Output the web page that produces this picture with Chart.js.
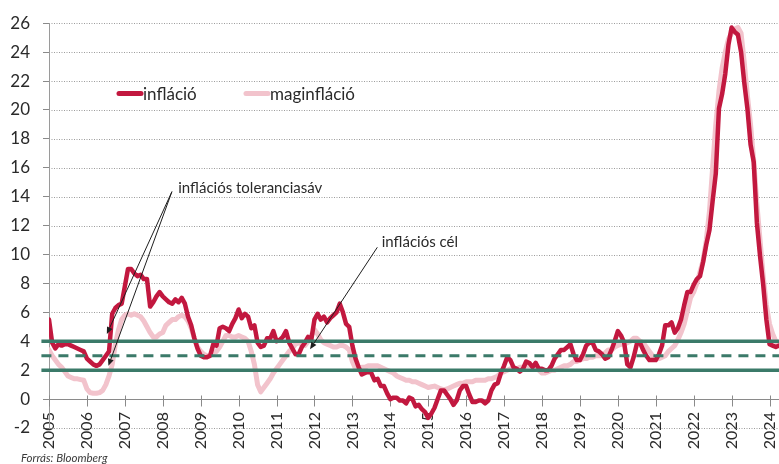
<!DOCTYPE html>
<html><head><meta charset="utf-8">
<script src="https://cdn.jsdelivr.net/npm/chart.js@4/dist/chart.umd.min.js"></script>
<style>html,body{margin:0;padding:0;background:#fff}canvas{display:block}</style>
</head><body>
<canvas id="c" width="779" height="464"></canvas>
<script>
// ---- tick labels / categories (one label per January, monthly data from Jan 2005) ----
const yearLabels = ['2005','2006','2007','2008','2009','2010','2011','2012','2013','2014',
                    '2015','2016','2017','2018','2019','2020','2021','2022','2023','2024'];
const monthsPerYear = 12;

// ---- series: infláció (y/y %, monthly) ----
const inflacio = [
  5.5, 3.9, 3.5, 3.8, 3.7, 3.8, 3.8, 3.7, 3.6, 3.5, 3.4, 3.3,        // 2005
  2.8, 2.6, 2.4, 2.3, 2.4, 2.7, 3.0, 3.3, 5.9, 6.3, 6.5, 6.6,        // 2006
  7.8, 9.0, 9.0, 8.7, 8.5, 8.6, 8.3, 8.3, 6.4, 6.7, 7.1, 7.4,        // 2007
  7.1, 6.9, 6.7, 6.6, 6.9, 6.7, 7.0, 6.6, 5.7, 5.1, 4.2, 3.5,        // 2008
  3.0, 2.9, 2.9, 3.0, 3.8, 3.7, 4.9, 5.0, 4.9, 4.7, 5.2, 5.6,        // 2009
  6.2, 5.6, 5.9, 5.7, 4.9, 5.1, 3.9, 3.6, 3.7, 4.2, 4.2, 4.7,        // 2010
  4.0, 4.1, 4.3, 4.7, 3.9, 3.5, 3.1, 3.1, 3.6, 3.9, 4.3, 4.1,        // 2011
  5.5, 5.9, 5.5, 5.7, 5.3, 5.6, 5.8, 6.0, 6.6, 6.0, 5.2, 5.0,        // 2012
  3.7, 2.8, 2.2, 1.7, 1.8, 1.9, 1.8, 1.3, 1.4, 0.9, 0.9, 0.4,        // 2013
  0.0, 0.1, 0.1, -0.1, -0.1, -0.3, 0.1, 0.0, -0.5, -0.4, -0.7, -0.9, // 2014
  -1.3, -1.0, -0.6, 0.0, 0.6, 0.6, 0.3, 0.0, -0.4, -0.1, 0.6, 0.9,   // 2015
  0.9, 0.3, -0.2, -0.2, -0.1, -0.1, -0.3, -0.1, 0.6, 1.0, 1.1, 1.8,  // 2016
  2.3, 2.9, 2.7, 2.2, 2.1, 1.9, 2.1, 2.6, 2.5, 2.2, 2.5, 2.1,        // 2017
  2.1, 2.0, 2.0, 2.3, 2.8, 3.1, 3.4, 3.4, 3.6, 3.8, 3.1, 2.7,        // 2018
  2.7, 3.1, 3.7, 3.9, 3.9, 3.4, 3.3, 3.1, 2.8, 2.9, 3.4, 4.0,        // 2019
  4.7, 4.4, 3.9, 2.4, 2.2, 2.9, 3.8, 3.9, 3.4, 3.0, 2.7, 2.7,        // 2020
  2.7, 3.1, 3.7, 5.1, 5.1, 5.3, 4.6, 4.9, 5.5, 6.5, 7.4, 7.4,        // 2021
  7.9, 8.3, 8.5, 9.5, 10.7, 11.7, 13.7, 15.6, 20.1, 21.1, 22.5, 24.5,// 2022
  25.7, 25.4, 25.2, 24.0, 21.9, 20.1, 17.6, 16.4, 12.2, 9.9, 7.9, 5.5,// 2023
  3.8, 3.7, 3.6, 3.7                                                 // 2024
];

// ---- series: maginfláció (core, y/y %, monthly) ----
const maginflacio = [
  3.4, 3.0, 2.7, 2.4, 2.2, 1.9, 1.6, 1.5, 1.4, 1.4, 1.35, 1.3,       // 2005
  0.7, 0.45, 0.4, 0.4, 0.45, 0.6, 1.0, 1.6, 2.4, 3.8, 4.8, 5.5,      // 2006
  5.8, 5.9, 5.8, 5.9, 5.8, 5.7, 5.4, 5.0, 4.6, 4.3, 4.3, 4.5,        // 2007
  4.6, 5.1, 5.3, 5.5, 5.5, 5.7, 5.8, 5.7, 5.4, 4.9, 4.2, 3.6,        // 2008
  3.3, 3.1, 3.0, 3.0, 3.2, 3.3, 3.6, 4.0, 4.4, 4.4, 4.3, 4.3,        // 2009
  4.4, 4.3, 4.2, 4.0, 3.3, 2.4, 1.0, 0.5, 0.8, 1.1, 1.4, 1.8,        // 2010
  2.1, 2.4, 2.7, 3.0, 3.3, 3.5, 3.8, 3.9, 3.8, 3.7, 4.0, 4.4,        // 2011
  4.8, 4.5, 4.1, 3.9, 3.8, 3.7, 3.6, 3.6, 3.7, 3.7, 3.6, 3.4,        // 2012
  2.6, 2.1, 2.1, 2.2, 2.2, 2.3, 2.3, 2.3, 2.3, 2.2, 2.1, 2.0,        // 2013
  1.9, 1.8, 1.6, 1.5, 1.4, 1.3, 1.3, 1.2, 1.2, 1.1, 1.0, 0.9,        // 2014
  0.8, 0.85, 0.9, 0.8, 0.7, 0.65, 0.7, 0.8, 0.9, 1.0, 1.1, 1.1,      // 2015
  1.2, 1.2, 1.2, 1.3, 1.3, 1.3, 1.3, 1.4, 1.4, 1.5, 1.6, 1.8,        // 2016
  1.9, 2.0, 2.1, 2.1, 2.1, 2.2, 2.2, 2.3, 2.3, 2.3, 2.2, 2.0,        // 2017
  1.8, 1.8, 1.9, 2.0, 2.0, 2.1, 2.2, 2.3, 2.3, 2.4, 2.6, 2.6,        // 2018
  2.7, 2.8, 2.8, 2.9, 2.9, 3.0, 3.0, 3.0, 3.2, 3.4, 3.4, 3.6,        // 2019
  3.7, 3.8, 3.8, 3.9, 4.0, 4.2, 4.2, 4.0, 3.9, 3.6, 3.3, 3.0,        // 2020
  2.8, 2.8, 2.9, 3.0, 3.3, 3.5, 3.7, 4.1, 4.6, 5.2, 6.1, 7.0,        // 2021
  7.4, 8.0, 8.8, 9.6, 11.0, 13.0, 16.0, 19.0, 21.3, 22.9, 24.0, 24.9,// 2022
  25.3, 25.6, 25.7, 25.3, 23.3, 21.0, 19.0, 16.5, 13.5, 11.0, 8.5, 6.5,// 2023
  5.2, 4.5, 4.0, 3.7                                                 // 2024
];

// ---- inflation target and tolerance band (%) ----
const toleranceUpper = [4, 4];
const inflationTarget = [3, 3];
const toleranceLower = [2, 2];

const lastIndex = inflacio.length - 1;
const bandStart = -2.4;               // band lines start slightly left of the axis
const toXY = arr => arr.map((v, i) => ({ x: i, y: v }));
const bandXY = arr => [{ x: bandStart, y: arr[0] }, { x: lastIndex, y: arr[1] }];

const RED = '#c2183f', PINK = '#f2c3cc', TEAL = '#3b7a69', TXT = '#2a2a2a';
const FONT = 'Lato, "Open Sans", sans-serif';

// annotations anchored in data coordinates (x = month index, y = %)
const notes = [
  { text: 'inflációs toleranciasáv', at: [40.9, 14.6],
    arrows: [{ from: [38.9, 14.35], to: [18.3, 4.5] }, { from: [38.9, 14.35], to: [18.8, 2.3] }] },
  { text: 'inflációs cél', at: [105.3, 10.87],
    arrows: [{ from: [103.9, 10.5], to: [82.6, 3.45] }] }
];

function line(ctx, x1, y1, x2, y2) { ctx.beginPath(); ctx.moveTo(x1, y1); ctx.lineTo(x2, y2); ctx.stroke(); }

const overlay = {
  id: 'overlay',
  beforeDatasetsDraw(chart) {
    const { ctx, chartArea: a, scales: { x, y } } = chart;
    ctx.save();
    ctx.lineWidth = 1;
    ctx.strokeStyle = '#9c9c9c';
    ctx.setLineDash([1, 1.5]);
    y.ticks.forEach(t => {
      if (t.value === 0) return;
      const py = Math.round(y.getPixelForValue(t.value)) + 0.5;
      line(ctx, a.left, py, a.right, py);
    });
    ctx.setLineDash([]);
    ctx.strokeStyle = '#8a8a8a';
    const y0 = Math.round(y.getPixelForValue(0)) + 0.5;
    line(ctx, a.left, y0, a.right, y0);
    x.ticks.forEach(t => {
      if (t.value % monthsPerYear !== 0) return;
      const px = Math.round(x.getPixelForValue(t.value)) + 0.5;
      line(ctx, px, y0 - 4, px, y0 + 7);
    });
    ctx.restore();
  },
  afterDatasetsDraw(chart) {
    const { ctx, scales: { x, y } } = chart;
    const P = p => [x.getPixelForValue(p[0]), y.getPixelForValue(p[1])];
    ctx.save();
    ctx.strokeStyle = '#1e1e1e'; ctx.fillStyle = '#1e1e1e'; ctx.lineWidth = 1;
    notes.forEach(n => {
      n.arrows.forEach(ar => {
        const [x1, y1] = P(ar.from), [x2, y2] = P(ar.to);
        const ang = Math.atan2(y2 - y1, x2 - x1);
        const L = 7, W = 3;
        const bx = x2 - L * Math.cos(ang), by = y2 - L * Math.sin(ang);
        ctx.strokeStyle = '#1e1e1e'; ctx.lineWidth = 1;
        line(ctx, x1, y1, bx, by);
        ctx.fillStyle = '#1e1e1e';
        ctx.beginPath();
        ctx.moveTo(x2, y2);
        ctx.lineTo(bx + W * Math.sin(ang), by - W * Math.cos(ang));
        ctx.lineTo(bx - W * Math.sin(ang), by + W * Math.cos(ang));
        ctx.closePath(); ctx.fill();
      });
      const [tx, ty] = P(n.at);
      ctx.fillStyle = TXT;
      ctx.font = '15px ' + FONT;
      ctx.textAlign = 'left'; ctx.textBaseline = 'middle';
      ctx.fillText(n.text, tx, ty);
    });
    // legend (inside plot, top-left)
    const ds = chart.data.datasets;
    const legendItems = [{ d: ds[0], x0: 117 }, { d: ds[1], x0: 244 }];
    const ly = 93.5;
    legendItems.forEach(it => {
      ctx.strokeStyle = it.d.borderColor; ctx.lineWidth = 5; ctx.lineCap = 'round';
      line(ctx, it.x0 + 2, ly, it.x0 + 24, ly);
      ctx.fillStyle = TXT; ctx.font = '17px ' + FONT;
      ctx.textAlign = 'left'; ctx.textBaseline = 'middle';
      ctx.fillText(it.d.label, it.x0 + 26, ly + 1);
    });
    // source note
    ctx.fillStyle = '#3a3a3a';
    ctx.font = 'italic 11.5px ' + FONT;
    ctx.textAlign = 'left'; ctx.textBaseline = 'alphabetic';
    ctx.fillText('Forrás: Bloomberg', 21, 462);
    ctx.restore();
  }
};

const lineBase = { pointRadius: 0, pointHoverRadius: 0, tension: 0, fill: false,
                   borderJoinStyle: 'round', borderCapStyle: 'round' };

new Chart(document.getElementById('c'), {
  type: 'line',
  data: {
    datasets: [
      { ...lineBase, label: 'infláció', data: toXY(inflacio), borderColor: RED, borderWidth: 4.5, order: 1 },
      { ...lineBase, label: 'maginfláció', data: toXY(maginflacio), borderColor: PINK, borderWidth: 5, order: 2 },
      { ...lineBase, label: 'felső sáv', data: bandXY(toleranceUpper), borderColor: TEAL, borderWidth: 3.5, clip: false, order: 0, borderCapStyle: 'butt' },
      { ...lineBase, label: 'inflációs cél', data: bandXY(inflationTarget), borderColor: TEAL, borderWidth: 3, borderDash: [10, 7], clip: false, order: 0, borderCapStyle: 'butt' },
      { ...lineBase, label: 'alsó sáv', data: bandXY(toleranceLower), borderColor: TEAL, borderWidth: 3.5, clip: false, order: 0, borderCapStyle: 'butt' }
    ]
  },
  options: {
    responsive: false,
    animation: false,
    events: [],
    layout: { padding: { top: 17, right: 0, bottom: 36, left: 0 } },
    plugins: { legend: { display: false }, tooltip: { enabled: false }, title: { display: false } },
    scales: {
      x: {
        type: 'linear', min: 0, max: lastIndex,
        position: { y: 0 },
        grid: { display: false, drawTicks: false },
        border: { display: false },
        ticks: {
          stepSize: monthsPerYear, autoSkip: false, includeBounds: false,
          minRotation: 90, maxRotation: 90, padding: 13,
          color: TXT, font: { family: FONT, size: 16 },
          callback: v => (v % monthsPerYear === 0 ? yearLabels[v / monthsPerYear] : '')
        },
        afterFit: s => { s.height = 0; s.paddingLeft = 0; s.paddingRight = 0; }
      },
      y: {
        min: -2, max: 26,
        ticks: { stepSize: 2, padding: 13, color: TXT, font: { family: FONT, size: 17 } },
        grid: { drawOnChartArea: false, tickLength: 6, tickColor: '#8a8a8a' },
        border: { color: '#9a9a9a', width: 1 },
        afterFit: s => { s.width = 49; }
      }
    }
  },
  plugins: [overlay]
});
</script>
</body></html>
